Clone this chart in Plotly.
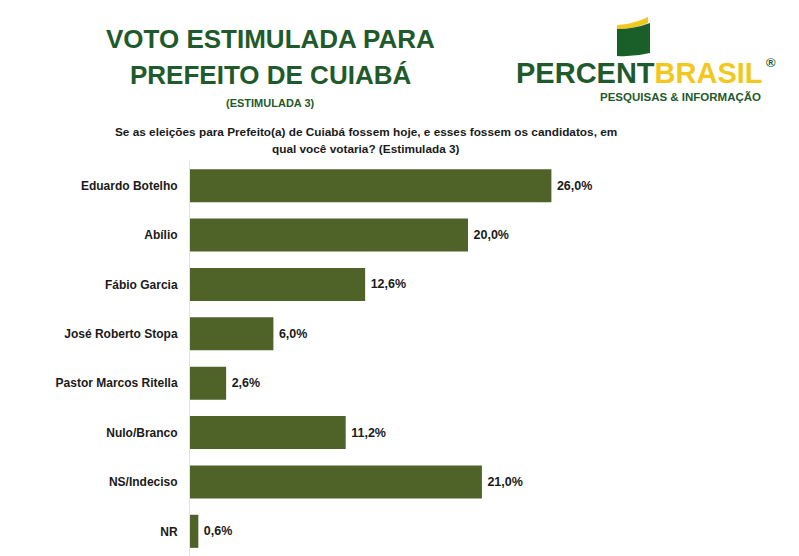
import plotly.graph_objects as go

categories = ["Eduardo Botelho", "Abílio", "Fábio Garcia", "José Roberto Stopa",
              "Pastor Marcos Ritella", "Nulo/Branco", "NS/Indeciso", "NR"]
values = [26.0, 20.0, 12.6, 6.0, 2.6, 11.2, 21.0, 0.6]
value_labels = [f"{v:.1f}".replace(".", ",") + "%" for v in values]

W, H = 799, 556
L, R, T, B = 190, 192, 161, 0
PW, PH = W - L - R, H - T - B

def px(x):
    return (x - L) / PW

def py(y):
    return (H - B - y) / PH

FONT = "Liberation Sans, Arial, sans-serif"
DARKG = "#1f5a2c"
YEL = "#f2c81e"

fig = go.Figure(go.Bar(
    y=categories, x=values, orientation="h",
    marker=dict(color="#4f6228", line=dict(width=0)),
    text=value_labels, textposition="outside", cliponaxis=False,
    texttemplate="\u2009%{text}",
    textfont=dict(family=FONT, size=12.5, color="#1a1a1a", weight="bold"),
    hoverinfo="skip",
))

fig.update_layout(
    width=W, height=H,
    margin=dict(l=L, r=R, t=T, b=B),
    paper_bgcolor="white", plot_bgcolor="white",
    showlegend=False, bargap=0.33,
    xaxis=dict(range=[0, 30], visible=False),
    yaxis=dict(autorange="reversed", showgrid=False, zeroline=False,
               showline=True, linecolor="#dfe4ea", linewidth=1,
               ticks="", ticklabelstandoff=9,
               tickfont=dict(family=FONT, size=12, color="#1a1a1a", weight="bold")),
)

ann = []
# Title
ann.append(dict(text="<b>VOTO ESTIMULADA PARA</b>", x=px(270), y=py(39),
                font=dict(family=FONT, size=26, color=DARKG)))
ann.append(dict(text="<b>PREFEITO DE CUIABÁ</b>", x=px(270), y=py(75),
                font=dict(family=FONT, size=26, color=DARKG)))
ann.append(dict(text="<b>(ESTIMULADA 3)</b>", x=px(270), y=py(103),
                font=dict(family=FONT, size=11, color=DARKG)))
# Question
ann.append(dict(text="<b>Se as eleições para Prefeito(a) de Cuiabá fossem hoje, e esses fossem os candidatos, em</b>",
                x=px(366), y=py(132), font=dict(family=FONT, size=11.8, color="#1a1a1a")))
ann.append(dict(text="<b>qual você votaria? (Estimulada 3)</b>",
                x=px(366), y=py(149), font=dict(family=FONT, size=11.8, color="#1a1a1a")))
# Logo text
ann.append(dict(text=f"<b>PERCENT<span style='color:{YEL}'>BRASIL</span></b>",
                x=px(639), y=py(73),
                font=dict(family=FONT, size=29, color=DARKG)))
ann.append(dict(text="<b>®</b>", x=px(771), y=py(62),
                font=dict(family=FONT, size=13, color=DARKG)))
ann.append(dict(text="<b>PESQUISAS & INFORMAÇÃO</b>", x=px(598), y=py(97), xanchor="left",
                font=dict(family=FONT, size=11.5, color=DARKG)))

for a in ann:
    a.setdefault("xanchor", "center")
    a.update(xref="paper", yref="paper", yanchor="middle", showarrow=False)
fig.update_layout(annotations=ann)

def P(x, y):
    return f"{px(x):.5f},{py(y):.5f}"

yellow = (f"M {P(617,25)} Q {P(634,24)} {P(648,17)} L {P(648,23)} "
          f"Q {P(634,29)} {P(617,29)} Z")
green = (f"M {P(617,29)} Q {P(634,29)} {P(650,23)} L {P(650,53)} "
         f"Q {P(634,57)} {P(617,56)} Z")
fig.update_layout(shapes=[
    dict(type="path", path=yellow, xref="paper", yref="paper",
         fillcolor=YEL, line=dict(width=0)),
    dict(type="path", path=green, xref="paper", yref="paper",
         fillcolor="#1a5e2a", line=dict(width=0)),
])

fig.write_html("out.html")
